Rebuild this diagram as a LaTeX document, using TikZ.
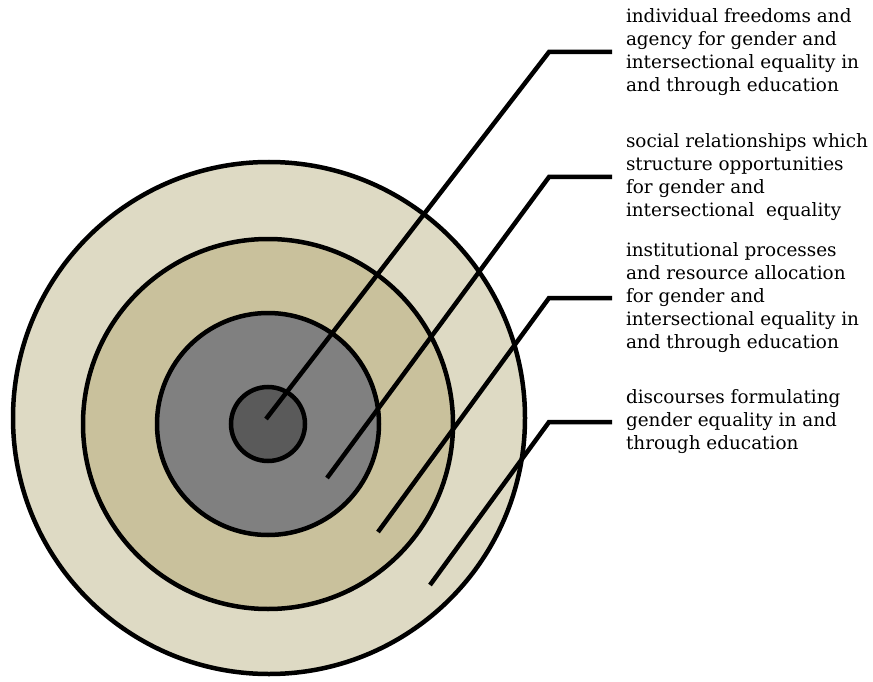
\documentclass[tikz,border=0pt]{standalone}
\usepackage{fontspec}
\setmainfont{DejaVu Serif}
\usepackage{tikz}
\usetikzlibrary{calc}

\definecolor{outerring}{RGB}{222,218,196}
\definecolor{midring}{RGB}{201,193,156}
\definecolor{innerring}{RGB}{128,128,128}
\definecolor{corering}{RGB}{90,90,90}

\begin{document}
\begin{tikzpicture}[x=1pt, y=-1pt,
    ring/.style={draw, circle, line width=4.5pt, inner sep=0pt, outer sep=0pt},
    lead/.style={line width=4.5pt},
    desc/.style={align=left, anchor=west, inner xsep=14pt, inner ysep=0pt, outer sep=0pt,
                 font=\fontsize{18.4}{23}\selectfont}]

    \useasboundingbox (0,0) rectangle (873,682);

    \coordinate (C) at (268,424);

    % Rings, outside in
    \node [ring, fill=outerring, minimum size=512pt] (R4) at (269,418) {};
    \node [ring, fill=midring, minimum size=370pt] (R3) at (C) {};
    \node [ring, fill=innerring, minimum size=222pt] (R2) at (C) {};
    \node [ring, fill=corering, minimum size=74pt] (R1) at (C) {};

    % Free ends of the leaders
    \coordinate (E1) at (266,419);
    \coordinate (E2) at (327,478);
    \coordinate (E3) at (378,532);
    \coordinate (E4) at (430,585);

    % Elbows
    \coordinate (K1) at (549,52);
    \coordinate (K2) at (549,177);
    \coordinate (K3) at (549,298);
    \coordinate (K4) at (549,422);

    % Descriptions
    \node [desc] (T1) at (612,52) {individual freedoms and\\agency for gender and\\intersectional equality in\\and through education};
    \node [desc] (T2) at (612,177) {social relationships which\\structure opportunities\\for gender and\\intersectional \ equality};
    \node [desc] (T3) at (612,298) {institutional processes\\and resource allocation\\for gender and\\intersectional equality in\\and through education};
    \node [desc] (T4) at (612,422) {discourses formulating\\gender equality in and\\through education};

    \foreach \i in {1,...,4} {
        \draw [lead] (E\i) -- (K\i) -- (T\i.west);
    }

\end{tikzpicture}
\end{document}
